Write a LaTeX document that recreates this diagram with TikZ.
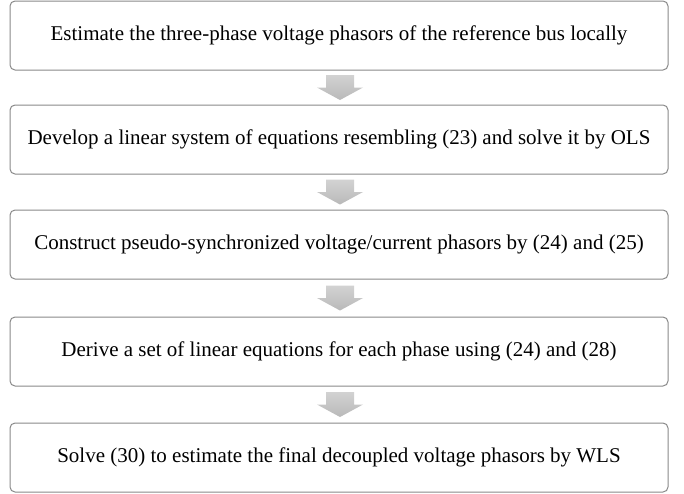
\documentclass[tikz,border=0pt]{standalone}
\usepackage{fontspec}
\setmainfont{Liberation Serif}
\usetikzlibrary{calc}
\definecolor{boxline}{RGB}{137,137,137}
\tikzset{
  stepbox/.style={draw=boxline, line width=1pt, rounded corners=5pt,
    minimum width=658pt, minimum height=69pt, inner sep=0pt,
    font=\fontsize{21}{24}\selectfont},
  blockarrow/.style={top color=gray!35, bottom color=gray!55, draw=none}
}
\begin{document}
\begin{tikzpicture}[x=1pt,y=1pt]
  \useasboundingbox (0,0) rectangle (684,-493);
  \node[stepbox] (b1) at (339,-35.5) {Estimate the three-phase voltage phasors of the reference bus locally};
  \node[stepbox] (b2) at (339,-139.5) {Develop a linear system of equations resembling (23) and solve it by OLS};
  \node[stepbox] (b3) at (339,-244.5) {Construct pseudo-synchronized voltage/current phasors by (24) and (25)};
  \node[stepbox] (b4) at (339,-351.5) {Derive a set of linear equations for each phase using (24) and (28)};
  \node[stepbox] (b5) at (339,-457.5) {Solve (30) to estimate the final decoupled voltage phasors by WLS};
  % arrows between the steps
  \foreach \i/\j in {1/2,2/3,3/4,4/5}{
    \coordinate (m\i) at ($(b\i.south)!0.5!(b\j.north)+(1,0)$);
    \path[blockarrow] ($(m\i)+(-14,12.5)$) -- ++(28,0) -- ++(0,-12.5)
      -- ++(9,0) -- ($(m\i)+(0,-12.5)$) -- ($(m\i)+(-23,0)$)
      -- ++(9,0) -- cycle;
  }
\end{tikzpicture}
\end{document}
